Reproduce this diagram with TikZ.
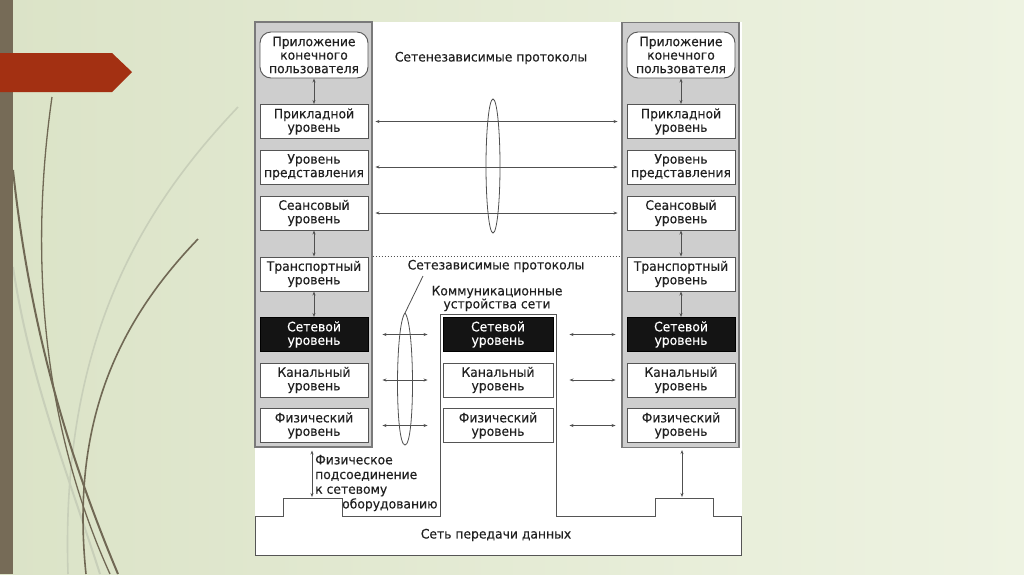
\documentclass[tikz,border=0pt]{standalone}
\usepackage{fontspec}
\setmainfont{DejaVu Sans}[FakeStretch=0.95,FakeBold=0.25]
\usetikzlibrary{arrows.meta,shapes.geometric}
\definecolor{bgL}{RGB}{219,227,199}
\definecolor{bgR}{RGB}{238,243,226}
\definecolor{barc}{RGB}{118,107,87}
\definecolor{redc}{RGB}{163,48,18}
\definecolor{curveD}{RGB}{112,104,84}
\definecolor{curveP}{RGB}{200,207,185}
\definecolor{boxc}{RGB}{85,85,85}
\definecolor{colb}{RGB}{122,122,122}
\definecolor{colf}{RGB}{206,206,206}
\definecolor{txt}{RGB}{32,32,32}
\definecolor{arrc}{RGB}{80,80,80}
\newcommand\layerfont{\fontsize{13}{13.5}\selectfont}
\begin{document}
\begin{tikzpicture}[x=1pt,y=-1pt,
  layer/.style={draw=boxc, line width=0.9pt, fill=white, minimum width=108pt, minimum height=34pt, inner sep=0pt, align=center, font=\layerfont, text=txt},
  blk/.style={layer, fill=black!92, draw=black, text=white},
  app/.style={layer, rounded corners=11pt, minimum height=46pt},
  col/.style={draw=colb, fill=colf, line width=1.1pt, inner sep=0pt, minimum width=117pt, minimum height=425pt},
  arr/.style={{Stealth[length=4pt,width=3pt]}-{Stealth[length=4pt,width=3pt]}, draw=arrc, line width=0.7pt},
  lbl/.style={font=\layerfont, text=txt, inner sep=0pt, align=center},
  ring/.style={draw=arrc, line width=0.8pt},
  netline/.style={draw=boxc, line width=0.9pt}
]
% background
\shade[left color=bgL, right color=bgR] (0,0) rectangle (1024,574);
\useasboundingbox (0,0) rectangle (1024,574);
% decorative curves
\draw[curveP, line width=1.6pt] (238,107) .. controls (150,200) and (60,330) .. (68,574);
\draw[curveP, line width=2pt] (13,267) .. controls (30,380) and (70,480) .. (100,574);
\draw[curveD, line width=2pt] (13,170) .. controls (30,330) and (70,460) .. (118,574);
\draw[curveD, line width=1.3pt] (52,97) .. controls (30,250) and (40,420) .. (110,574);
\draw[curveD, line width=1.6pt] (198,239) .. controls (120,320) and (70,420) .. (86,574);
\fill[barc] (0,0) rectangle (13,574);
\fill[redc] (0,53) -- (112,53) -- (132,72) -- (112,92) -- (0,92) -- cycle;
% white panel
\fill[white] (255,22) rectangle (742,555);
% network ground
\draw[netline] (255,555) -- (255,516) -- (283,516) -- (283,498) -- (342,498) -- (342,516)
  -- (440,516) -- (440,314) -- (556,314) -- (556,516) -- (655,516) -- (655,498)
  -- (713,498) -- (713,516) -- (741,516) -- (741,555) -- cycle;
% columns
\node[col] (LC) at (313.5,234.5) {};
\node[col] (RC) at (680.5,235) {};
% left stack
\node[app] (LA) at (314,55) {Приложение\\конечного\\пользователя};
\node[layer] (L7) at (314,121.5) {Прикладной\\уровень};
\node[layer] (L6) at (314,167) {Уровень\\представления};
\node[layer] (L5) at (314,213) {Сеансовый\\уровень};
\node[layer] (L4) at (314,274) {Транспортный\\уровень};
\node[blk]   (L3) at (314,334.5) {Сетевой\\уровень};
\node[layer] (L2) at (314,380) {Канальный\\уровень};
\node[layer] (L1) at (314,425.5) {Физический\\уровень};
% right stack
\node[app] (RA) at (681,55) {Приложение\\конечного\\пользователя};
\node[layer] (R7) at (681,121.5) {Прикладной\\уровень};
\node[layer] (R6) at (681,167) {Уровень\\представления};
\node[layer] (R5) at (681,213) {Сеансовый\\уровень};
\node[layer] (R4) at (681,274) {Транспортный\\уровень};
\node[blk]   (R3) at (681,334.5) {Сетевой\\уровень};
\node[layer] (R2) at (681,380) {Канальный\\уровень};
\node[layer] (R1) at (681,425.5) {Физический\\уровень};
% middle device
\node[blk,minimum width=110pt]   (M3) at (498,334.5) {Сетевой\\уровень};
\node[layer,minimum width=110pt] (M2) at (498,380) {Канальный\\уровень};
\node[layer,minimum width=110pt] (M1) at (498,425.5) {Физический\\уровень};
% vertical arrows in stacks
\foreach \a/\b in {LA/L7,L5/L4,L4/L3,RA/R7,R5/R4,R4/R3}
  \draw[arr] (\a.south) -- (\b.north);
% dotted separator
\draw[draw=arrc, line width=0.8pt, dash pattern=on 1.2pt off 1.8pt] (LC.east |- L4.north) -- (RC.west |- L4.north);
% upper peer arrows
\foreach \n in {7,6,5}
  \draw[arr, shorten <=7pt, shorten >=9pt] (L\n.east) -- (R\n.west);
% lower peer arrows
\foreach \n in {3,2,1}{
  \draw[arr, shorten <=14pt, shorten >=15pt] (L\n.east) -- (M\n.west);
  \draw[arr, shorten <=16pt, shorten >=11pt] (M\n.east) -- (R\n.west);
}
% ellipses
\draw[ring] (493,166) ellipse [x radius=7, y radius=67];
\coordinate (tip) at (405,313);
\coordinate (lead) at (423,276);
\draw[ring] (tip) .. controls (415,325) and (415,445) .. (405,445) .. controls (395,445) and (395,325) .. (tip);
\draw[ring] (tip) -- (lead);
% labels
\node[lbl] (T1) at (491,58) {Сетенезависимые протоколы};
\node[lbl] (T2) at (496,266) {Сетезависимые протоколы};
\node[lbl, font=\fontsize{13}{13}\selectfont] (T3) at (497,298.5) {Коммуникационные\\устройства сети};
\node[lbl] (T5) at (496,535) {Сеть передачи данных};
\node[lbl, align=left, anchor=west, font=\fontsize{13}{14.7}\selectfont] (T4) at (315,483)
  {Физическое\\подсоединение\\к сетевому\\\hspace*{27pt}оборудованию};
% physical connection arrows
\coordinate (gl) at (312,497);
\coordinate (gr) at (682,497);
\draw[arr] (LC.south -| gl) ++(0,3) -- (gl);
\draw[arr] (RC.south -| gr) ++(0,2) -- (gr);
\end{tikzpicture}
\end{document}
